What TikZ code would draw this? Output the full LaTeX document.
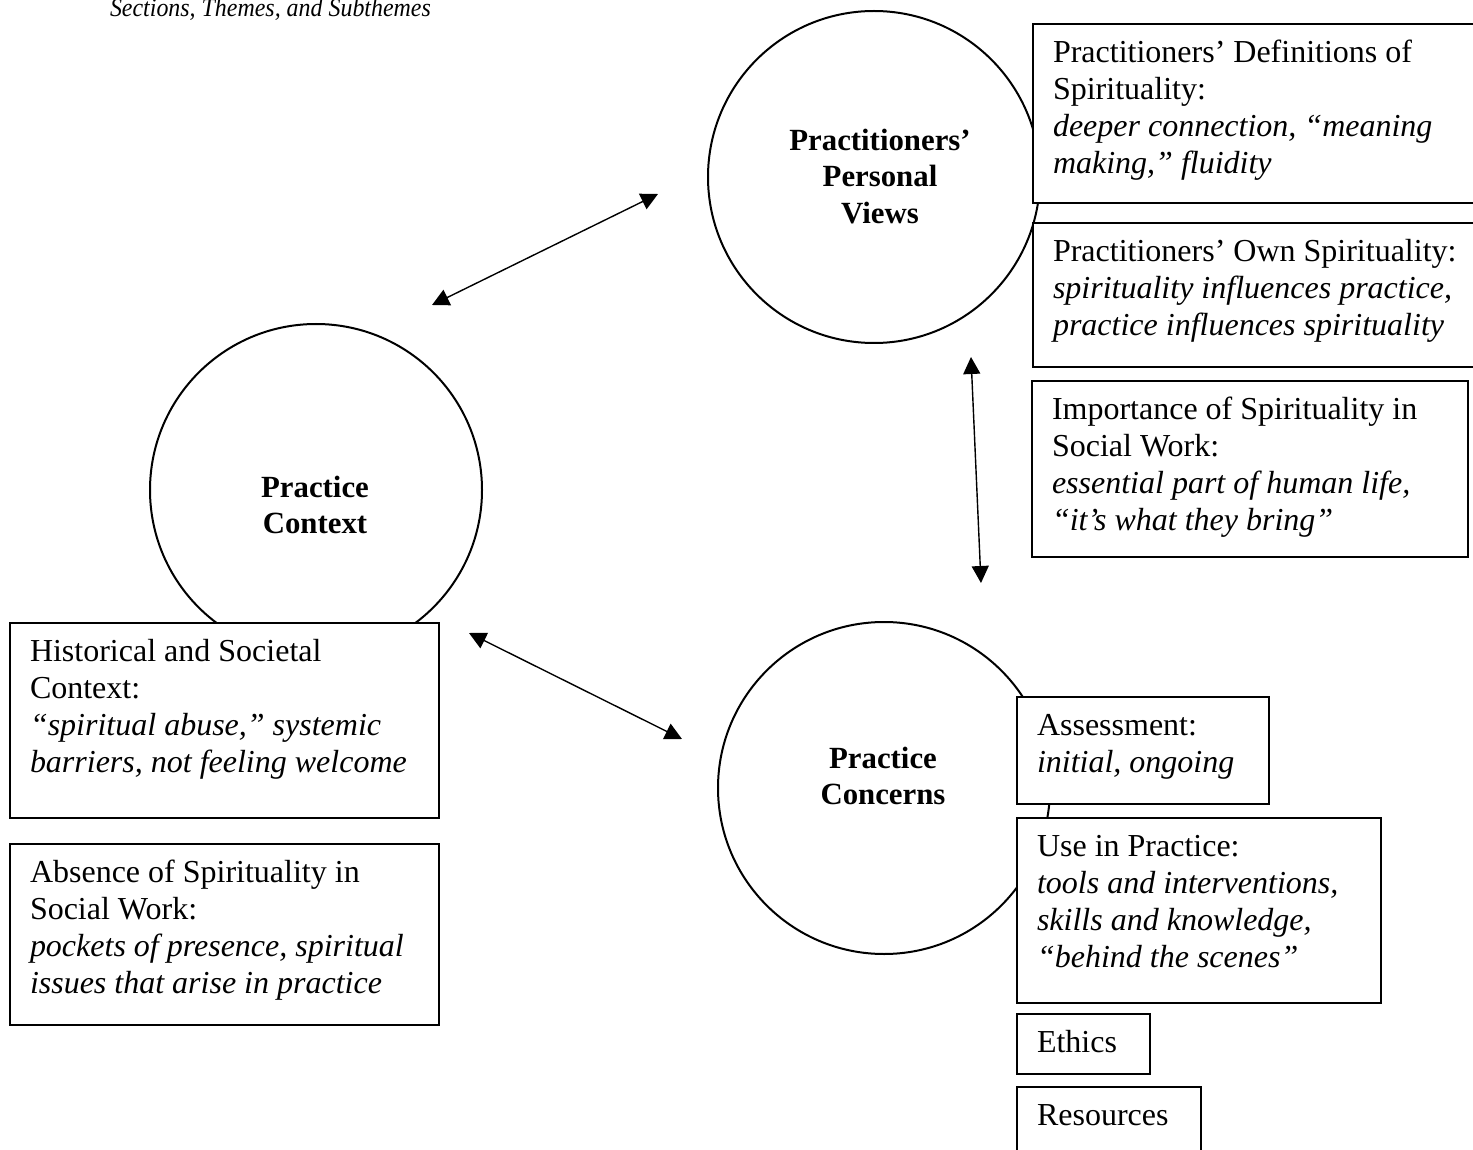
\documentclass[tikz,border=0pt]{standalone}
\usepackage{fontspec}
\setmainfont{Liberation Serif}
\usetikzlibrary{arrows.meta}
\begin{document}
\begin{tikzpicture}[x=0.5pt,y=-0.5pt,
  every node/.style={inner sep=0pt, outer sep=0pt},
  txt/.style={anchor=north west, align=left, font=\fontsize{16pt}{18.4pt}\selectfont},
  ctxt/.style={anchor=north, align=center, font=\fontsize{15.4pt}{18.2pt}\selectfont\bfseries},
  box/.style={draw=black, line width=0.75pt, fill=white},
  ring/.style={draw=black, line width=1pt, circle, minimum size=166pt},
  biarrow/.style={{Triangle[length=8.5pt,width=8.5pt]}-{Triangle[length=8.5pt,width=8.5pt]}, line width=0.7pt}
]
\useasboundingbox (0,0) rectangle (1473,1150);
\clip (0,0) rectangle (1473,1150);

% title
\node[anchor=base west, font=\fontsize{13pt}{15pt}\selectfont\itshape] (title) at (110,17)
  {\scalebox{0.92}[1]{Sections, Themes, and Subthemes}};

% circles
\node[ring] (ppv) at (874,177) {};
\node[ring] (pctx) at (316,490) {};
\node[ring] (pcon) at (884,788) {};

\node[ctxt] (ppvt) at (880,125) {\strut Practitioners’\\Personal\\Views};
\node[ctxt] (pctxt) at (315,472) {\strut Practice\\Context};
\node[ctxt] (pcont) at (883,743) {\strut Practice\\Concerns};

% boxes
\draw[box] (1033,24) rectangle (1480,203);
\node[txt] (b1) at (1053,37) {\strut Practitioners’ Definitions of\\Spirituality:\\\textit{deeper connection, “meaning}\\\textit{making,” fluidity}};

\draw[box] (1033,223) rectangle (1480,367);
\node[txt] (b2) at (1053,236) {\strut Practitioners’ Own Spirituality:\\\textit{spirituality influences practice,}\\\textit{practice influences spirituality}};

\draw[box] (1032,381) rectangle (1468,557);
\node[txt] (b3) at (1052,394) {\strut Importance of Spirituality in\\Social Work:\\\textit{essential part of human life,}\\\textit{“it’s what they bring”}};

\draw[box] (10,623) rectangle (439,818);
\node[txt] (b4) at (30,636) {\strut Historical and Societal\\Context:\\\textit{“spiritual abuse,” systemic}\\\textit{barriers, not feeling welcome}};

\draw[box] (10,844) rectangle (439,1025);
\node[txt] (b5) at (30,857) {\strut Absence of Spirituality in\\Social Work:\\\textit{pockets of presence, spiritual}\\\textit{issues that arise in practice}};

\draw[box] (1017,697) rectangle (1269,804);
\node[txt] (b6) at (1037,710) {\strut Assessment:\\\textit{initial, ongoing}};

\draw[box] (1017,818) rectangle (1381,1003);
\node[txt] (b7) at (1037,831) {\strut Use in Practice:\\\textit{tools and interventions,}\\\textit{skills and knowledge,}\\\textit{“behind the scenes”}};

\draw[box] (1017,1014) rectangle (1150,1074);
\node[txt] (b8) at (1037,1027) {\strut Ethics};

\draw[box] (1017,1087) rectangle (1201,1170);
\node[txt] (b9) at (1037,1100) {\strut Resources};

% arrows
\coordinate (a1s) at (432,305);
\coordinate (a1e) at (658,194);
\coordinate (a2s) at (469,633);
\coordinate (a2e) at (682,739);
\coordinate (a3s) at (971,357);
\coordinate (a3e) at (981,583);
\draw[biarrow] (a1s) -- (a1e);
\draw[biarrow] (a2s) -- (a2e);
\draw[biarrow] (a3s) -- (a3e);
\end{tikzpicture}
\end{document}
